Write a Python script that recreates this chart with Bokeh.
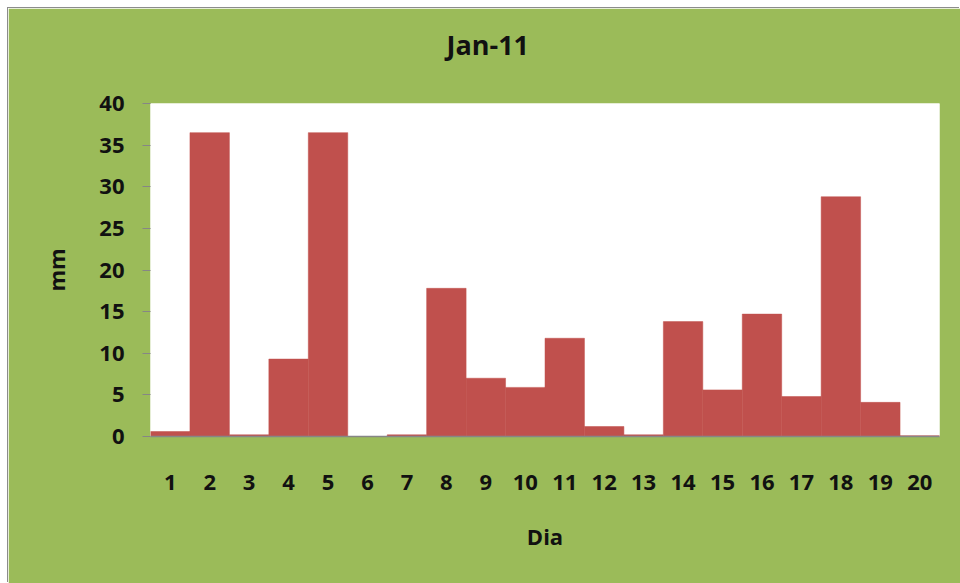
from bokeh.plotting import figure
from bokeh.models import FactorRange, Range1d, FixedTicker, Title, ColumnDataSource
from bokeh.embed import file_html
from bokeh.resources import INLINE

dias = [str(i) for i in range(1, 21)]
mm = [0.6, 36.5, 0.2, 9.3, 36.5, 0.0, 0.2, 17.8, 7.0, 5.9, 11.8, 1.2, 0.2, 13.8, 5.6, 14.7, 4.8, 28.8, 4.1, 0.1]
y_ticks = [0, 5, 10, 15, 20, 25, 30, 35, 40]
title_text = "Jan-11"

GREEN = "#9BBB59"
RED = "#C0504D"
FONT = "Open Sans"

src = ColumnDataSource(dict(dia=dias, mm=mm))

p = figure(width=952, height=575, x_range=FactorRange(*dias, range_padding=0),
           y_range=Range1d(0, 40), output_backend="svg", toolbar_location=None,
           min_border_left=142, min_border_right=21, min_border_top=95, min_border_bottom=147)
p.styles = {"margin-left": "8px", "margin-top": "8px",
            "box-shadow": "-1px -1px 0 0 #8c8c8c"}
p.border_fill_color = GREEN
p.background_fill_color = "white"
p.outline_line_color = None
p.grid.visible = False

p.vbar(x="dia", top="mm", width=1.0, source=src, fill_color=RED, line_color=RED, line_width=0.5)

# second (blank) line only reserves space so the title sits higher above the frame
t = Title(text=title_text + "\n ", align="left", offset=296, standoff=4, vertical_align="top",
          text_font=FONT, text_font_size="27px", text_font_style="bold", text_color="#111111")
p.add_layout(t, "above")

# y axis
p.yaxis.ticker = FixedTicker(ticks=y_ticks)
p.yaxis.axis_line_color = None
p.yaxis.major_tick_line_color = "#868686"
p.yaxis.major_tick_out = 8
p.yaxis.major_tick_in = 0
p.yaxis.minor_tick_line_color = None
p.yaxis.major_label_standoff = 18
p.yaxis.major_label_text_font = FONT
p.yaxis.major_label_text_font_size = "22px"
p.yaxis.major_label_text_font_style = "bold"
p.yaxis.major_label_text_color = "#111111"
p.yaxis.axis_label = "mm"
p.yaxis.axis_label_text_font = FONT
p.yaxis.axis_label_text_font_size = "22px"
p.yaxis.axis_label_text_font_style = "bold"
p.yaxis.axis_label_text_color = "#111111"
p.yaxis.axis_label_standoff = 25

# x axis
p.xaxis.axis_line_color = "#868686"
p.xaxis.axis_line_width = 1.5
p.xaxis.major_tick_line_color = None
p.xaxis.major_tick_out = 0
p.xaxis.major_tick_in = 0
p.xaxis.major_label_standoff = 38
p.xaxis.major_label_text_font = FONT
p.xaxis.major_label_text_font_size = "22px"
p.xaxis.major_label_text_font_style = "bold"
p.xaxis.major_label_text_color = "#111111"
p.xaxis.axis_label = "Dia"
p.xaxis.axis_label_text_font = FONT
p.xaxis.axis_label_text_font_size = "22px"
p.xaxis.axis_label_text_font_style = "bold"
p.xaxis.axis_label_text_color = "#111111"
p.xaxis.axis_label_standoff = 28

open("out.html", "w").write(file_html(p, INLINE))
